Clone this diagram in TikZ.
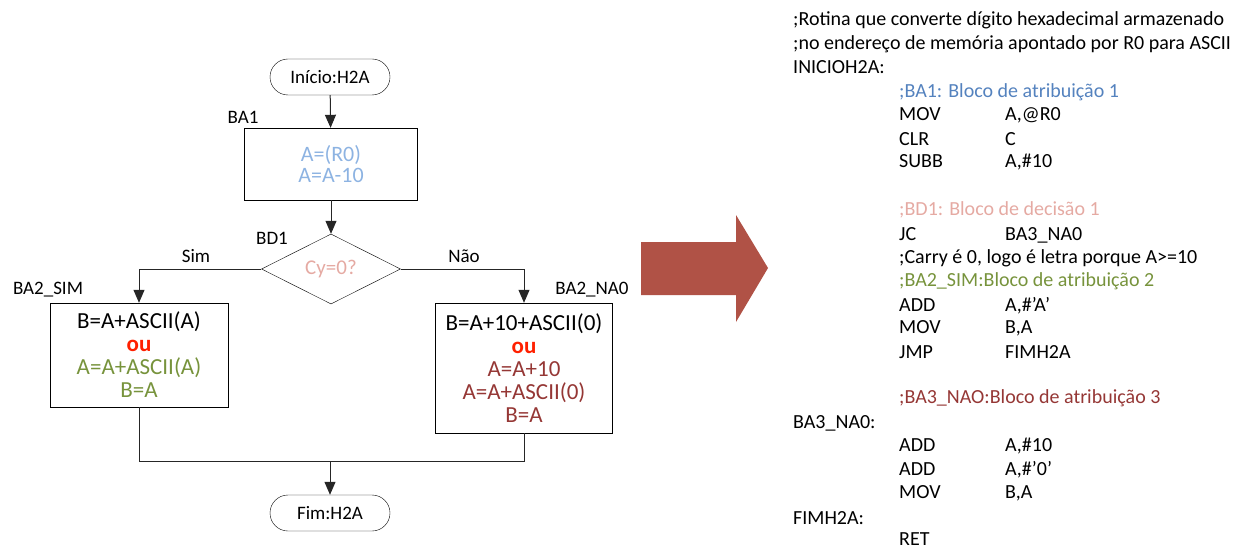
\documentclass[tikz,border=0pt]{standalone}
\usepackage{fontspec}
\setmainfont{Carlito}
\usepackage{tikz}
\usetikzlibrary{shapes.geometric, arrows.meta, positioning}
\usepackage{xcolor}

\definecolor{lightblue}{RGB}{141,179,226}
\definecolor{pinkish}{RGB}{229,170,163}
\definecolor{olivegreen}{RGB}{119,147,60}
\definecolor{darkbrown}{RGB}{149,55,53}
\definecolor{ored}{RGB}{255,32,0}
\definecolor{codeblue}{RGB}{84,130,190}
\definecolor{arrowred}{RGB}{176,82,70}

\newcommand{\op}[2]{\makebox[106pt][l]{#1}#2}

\begin{document}
\begin{tikzpicture}[
    x=1pt, y=-1pt,
    terminal/.style={draw, rectangle, rounded corners=18pt, minimum width=120pt, minimum height=36pt, font=\fontsize{19}{22}\selectfont},
    block/.style={draw, rectangle, align=center, inner sep=2pt, font=\fontsize{23}{23}\selectfont},
    decision/.style={draw, diamond, minimum width=139pt, minimum height=70pt, inner sep=0pt, font=\fontsize{21}{24}\selectfont},
    lbl/.style={inner sep=0pt, font=\fontsize{19}{22}\selectfont},
    code/.style={anchor=west, inner sep=0pt, font=\fontsize{20}{23}\selectfont},
    flow/.style={line width=1pt, draw=black!85},
    arrow/.style={flow, -{Triangle[length=13pt, width=11pt]}}
]
    \useasboundingbox (0,0) rectangle (1238,548);

    % Start
    \node[terminal] (inicio) at (330,77) {Início:H2A};

    % Bloco de atribuicao 1
    \node[block, minimum width=173pt, minimum height=72pt, text=lightblue, font=\fontsize{22}{21}\selectfont] (ba1) at (331,164) {A=(R0)\\A=A-10};
    \node[lbl] (ba1lbl) at (243,117) {BA1};

    % Bloco de decisao 1
    \node[decision, text=pinkish] (bd1) at (331,269) {Cy=0?};
    \node[lbl] (bd1lbl) at (272,238) {BD1};
    \node[lbl] (sim) at (196,256) {Sim};
    \node[lbl] (nao) at (464,256) {Não};

    % Blocos de atribuicao 2
    \node[block, minimum width=178pt, minimum height=104pt] (ba2sim) at (139,355)
        {B=A+ASCII(A)\\ \textcolor{ored}{\textbf{ou}}\\ \textcolor{olivegreen}{A=A+ASCII(A)}\\ \textcolor{olivegreen}{B=A}};
    \node[lbl] (ba2simlbl) at (48,290) {BA2\_SIM};
    \node[block, minimum width=177pt, minimum height=130pt] (ba2nao) at (524,368)
        {B=A+10+ASCII(0)\\ \textcolor{ored}{\textbf{ou}}\\ \textcolor{darkbrown}{A=A+10}\\ \textcolor{darkbrown}{A=A+ASCII(0)}\\ \textcolor{darkbrown}{B=A}};
    \node[lbl] (ba2naolbl) at (592,290) {BA2\_NA0};

    % End
    \coordinate (merge) at (330,461);
    \node[terminal] (fim) at (330,513) {Fim:H2A};

    % Arrows
    \draw[arrow] (inicio) -- (ba1);
    \draw[arrow] (ba1) -- (bd1);
    \draw[arrow] (bd1.west) -| (ba2sim.north);
    \draw[arrow] (bd1.east) -| (ba2nao.north);
    \draw[flow] (ba2sim.south) |- (merge);
    \draw[flow] (ba2nao.south) |- (merge);
    \draw[arrow] (merge) -- (fim);

    % Big arrow
    \fill[arrowred] (641,242) -- (736,242) -- (736,215) -- (768,268) -- (736,322) -- (736,295) -- (641,295) -- cycle;

    % Assembly code
    \node[code] (hdr1) at (793,20) {;Rotina que converte dígito hexadecimal armazenado};
    \node[code] (hdr2) at (793,44) {;no endereço de memória apontado por R0 para ASCII};
    \node[code] (inicioh2a) at (793,67) {INICIOH2A:};
    \node[code, text=codeblue] (cmtba1) at (899,92) {;BA1: Bloco de atribuição 1};
    \node[code] (mov1) at (899,115) {\op{MOV}{A,@R0}};
    \node[code] (clr) at (899,139) {\op{CLR}{C}};
    \node[code] (subb) at (899,162) {\op{SUBB}{A,\#10}};
    \node[code, text=pinkish] (cmtbd1) at (899,210) {;BD1: Bloco de decisão 1};
    \node[code] (jc) at (899,235) {\op{JC}{BA3\_NA0}};
    \node[code] (carry) at (899,258) {;Carry é 0, logo é letra porque A>=10};
    \node[code, text=olivegreen] (cmtba2) at (899,281) {;BA2\_SIM:Bloco de atribuição 2};
    \node[code] (add1) at (899,306) {\op{ADD}{A,\#’A’}};
    \node[code] (mov2) at (899,328) {\op{MOV}{B,A}};
    \node[code] (jmp) at (899,352) {\op{JMP}{FIMH2A}};
    \node[code, text=darkbrown] (cmtba3) at (899,398) {;BA3\_NAO:Bloco de atribuição 3};
    \node[code] (ba3nao) at (793,423) {BA3\_NA0:};
    \node[code] (add2) at (899,446) {\op{ADD}{A,\#10}};
    \node[code] (add3) at (899,470) {\op{ADD}{A,\#'0'}};
    \node[code] (mov3) at (899,493) {\op{MOV}{B,A}};
    \node[code] (fimh2a) at (793,518) {FIMH2A:};
    \node[code] (ret) at (899,539) {RET};

\end{tikzpicture}
\end{document}
